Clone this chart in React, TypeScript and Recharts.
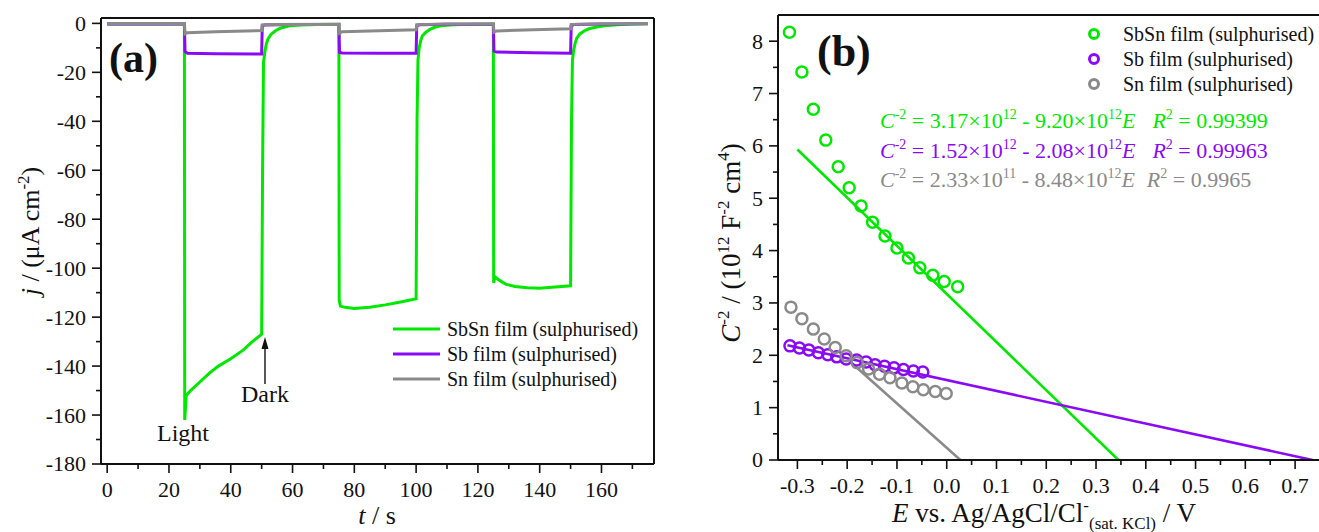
import React from 'react';
import { LineChart, Line, XAxis, YAxis, ReferenceLine, ComposedChart, Scatter } from 'recharts';

const FONT = '"Liberation Serif", "Times New Roman", Times, serif';
const GREEN = '#00E800';
const PURPLE = '#8A0AF8';
const GRAY = '#8A8A8A';
const INK = '#111111';

// ---------- Panel (a): chronoamperometry, t / s vs j / (uA cm-2) ----------
const sbsnCurrent: [number, number][] = [
  [0, -0.3], [25, -0.3], [25.1, -162], [25.6, -152], [27, -150], [30, -146.5], [33, -143], [36, -140],
  [40, -137], [44, -133.5], [47, -130], [50, -127], [50.3, -60], [50.6, -16], [51, -12], [51.5, -8.5],
  [52, -6.5], [53, -4.5], [54.5, -3], [56, -2], [59, -1], [63, -0.7], [68, -0.5], [75, -0.4],
  [75.1, -113], [75.5, -115.5], [77, -116], [80, -116.5], [85, -116], [90, -115], [95, -113.8], [100, -112.5],
  [100.3, -40], [100.6, -15], [101, -10], [101.5, -7], [102, -5.2], [103, -3.8], [104.5, -2.4], [106, -1.6],
  [108, -1], [112, -0.6], [118, -0.4], [125, -0.3],
  [125.1, -106], [125.5, -103.5], [127, -105], [129, -106.5], [132, -107.5], [136, -108], [140, -108.2],
  [144, -107.8], [150, -107.2], [150.3, -40], [150.6, -15], [151, -11], [151.5, -8], [152, -6], [153, -4.3],
  [154.5, -3], [156, -2.2], [158, -1.6], [161, -1], [165, -0.6], [170, -0.3], [175, -0.2],
];
const sbCurrent: [number, number][] = [
  [0, -0.3], [25, -0.3], [25.2, -11.5], [26, -12.2], [35, -12.4], [50, -12.5], [50.2, -1], [51, -0.7],
  [60, -0.5], [75, -0.5], [75.2, -11.8], [76, -12.1], [88, -12.2], [100, -12.2], [100.2, -1], [101, -0.6],
  [110, -0.4], [125, -0.4], [125.2, -11.3], [126, -11.7], [138, -12], [150, -12.2], [150.2, -1], [151, -0.5],
  [160, -0.3], [175, -0.2],
];
const snCurrent: [number, number][] = [
  [0, 0], [25, 0], [25.2, -4.3], [26, -3.8], [35, -3.4], [50, -2.9], [50.2, -0.6], [52, -0.5], [75, -0.4],
  [75.2, -4], [76, -3.4], [88, -3], [100, -2.6], [100.2, -0.5], [110, -0.3], [125, -0.3], [125.2, -3.6],
  [126, -3.1], [138, -2.6], [150, -2.2], [150.2, -0.4], [160, -0.2], [175, 0],
];
const aXTicks = [0, 10, 20, 30, 40, 50, 60, 70, 80, 90, 100, 110, 120, 130, 140, 150, 160, 170];
const aXLabels = [0, 20, 40, 60, 80, 100, 120, 140, 160];
const aYTicks = [0, -10, -20, -30, -40, -50, -60, -70, -80, -90, -100, -110, -120, -130, -140, -150, -160, -170, -180];
const aYLabels = [0, -20, -40, -60, -80, -100, -120, -140, -160, -180];
const aSeriesNames = ['SbSn film (sulphurised)', 'Sb film (sulphurised)', 'Sn film (sulphurised)'];

// ---------- Panel (b): Mott-Schottky ----------
const sbsnMS: [number, number][] = [
  [-0.316, 8.17], [-0.291, 7.41], [-0.268, 6.70], [-0.243, 6.11], [-0.218, 5.60], [-0.196, 5.20], [-0.172, 4.85],
  [-0.149, 4.54], [-0.124, 4.28], [-0.100, 4.05], [-0.077, 3.86], [-0.054, 3.67], [-0.028, 3.53], [-0.005, 3.41], [0.022, 3.31],
];
const sbMS: [number, number][] = [
  [-0.315, 2.18], [-0.296, 2.14], [-0.277, 2.10], [-0.258, 2.05], [-0.239, 2.01], [-0.221, 1.97], [-0.202, 1.93],
  [-0.181, 1.91], [-0.162, 1.87], [-0.144, 1.82], [-0.125, 1.79], [-0.106, 1.76], [-0.087, 1.73], [-0.067, 1.70], [-0.048, 1.68],
];
const snMS: [number, number][] = [
  [-0.313, 2.92], [-0.291, 2.70], [-0.268, 2.50], [-0.246, 2.31], [-0.224, 2.15], [-0.202, 1.99], [-0.180, 1.86],
  [-0.157, 1.74], [-0.135, 1.64], [-0.114, 1.57], [-0.090, 1.47], [-0.068, 1.40], [-0.047, 1.34], [-0.023, 1.31], [-0.001, 1.27],
];
const sbsnFit: [number, number][] = [[-0.30, 5.93], [0.345, 0]];
const sbFit: [number, number][] = [[-0.32, 2.19], [0.735, 0]];
const snFit: [number, number][] = [[-0.185, 1.80], [0.0275, 0]];
const bXTicks = [-0.3, -0.25, -0.2, -0.15, -0.1, -0.05, 0, 0.05, 0.1, 0.15, 0.2, 0.25, 0.3, 0.35, 0.4, 0.45, 0.5, 0.55, 0.6, 0.65, 0.7];
const bXLabels = [-0.3, -0.2, -0.1, 0, 0.1, 0.2, 0.3, 0.4, 0.5, 0.6, 0.7];
const bYTicks = [0, 0.5, 1, 1.5, 2, 2.5, 3, 3.5, 4, 4.5, 5, 5.5, 6, 6.5, 7, 7.5, 8];
const bYLabels = [0, 1, 2, 3, 4, 5, 6, 7, 8];
const fitEquations = [
  { a: '3.17', ea: '12', b: '9.20', eb: '12', r: '0.99399' },
  { a: '1.52', ea: '12', b: '2.08', eb: '12', r: '0.99963' },
  { a: '2.33', ea: '11', b: '8.48', eb: '12', r: '0.9965' },
];

const tj = (a: [number, number][]) => a.map(([t, j]) => ({ t, j }));
const xy = (a: [number, number][]) => a.map(([x, y]) => ({ x, y }));

const isIn = (list: number[], v: number) => list.some((l) => Math.abs(l - v) < 1e-9);

function makeXTick(labels: number[], fmt: (v: number) => string, gap: number) {
  return (props: any) => {
    const { x, y, payload } = props;
    const v = payload.value;
    const major = isIn(labels, v);
    return (
      <g>
        <line x1={x} x2={x} y1={y} y2={y + (major ? 9 : 5)} stroke={INK} strokeWidth={1.6} />
        {major && (
          <text x={x} y={y + gap} textAnchor="middle" fontSize={22} fontFamily={FONT} fill={INK}>
            {fmt(v)}
          </text>
        )}
      </g>
    );
  };
}
function makeYTick(labels: number[], fmt: (v: number) => string) {
  return (props: any) => {
    const { x, y, payload } = props;
    const v = payload.value;
    const major = isIn(labels, v);
    return (
      <g>
        <line x1={x} x2={x - (major ? 9 : 5)} y1={y} y2={y} stroke={INK} strokeWidth={1.6} />
        {major && (
          <text x={x - 15} y={y} dy="0.34em" textAnchor="end" fontSize={22} fontFamily={FONT} fill={INK}>
            {fmt(v)}
          </text>
        )}
      </g>
    );
  };
}

const ringShape = (color: string) => (props: any) => (
  <circle cx={props.cx} cy={props.cy} r={5.5} fill="none" stroke={color} strokeWidth={2.5} />
);

const axisLine = { stroke: INK, strokeWidth: 2 };

function PanelA() {
  return (
    <LineChart width={660} height={532} margin={{ top: 18, right: 6, bottom: 8, left: 0 }}>
      <XAxis
        dataKey="t"
        type="number"
        domain={[-2, 177]}
        allowDataOverflow
        ticks={aXTicks}
        interval={0}
        tickSize={0}
        tickMargin={0}
        tickLine={false}
        axisLine={axisLine}
        height={60}
        tick={makeXTick(aXLabels, (v) => String(v), 33)}
      />
      <YAxis
        type="number"
        domain={[-180, 2.2]}
        allowDataOverflow
        ticks={aYTicks}
        interval={0}
        tickSize={0}
        tickMargin={0}
        tickLine={false}
        axisLine={axisLine}
        width={101}
        tick={makeYTick(aYLabels, (v) => String(v))}
      />
      <ReferenceLine y={2.2} stroke={INK} strokeWidth={2} ifOverflow="visible" />
      <ReferenceLine x={177} stroke={INK} strokeWidth={2} ifOverflow="visible" />
      <Line data={tj(sbsnCurrent)} dataKey="j" name={aSeriesNames[0]} type="linear" stroke={GREEN} strokeWidth={3} dot={false} isAnimationActive={false} />
      <Line data={tj(sbCurrent)} dataKey="j" name={aSeriesNames[1]} type="linear" stroke={PURPLE} strokeWidth={3} dot={false} isAnimationActive={false} />
      <Line data={tj(snCurrent)} dataKey="j" name={aSeriesNames[2]} type="linear" stroke={GRAY} strokeWidth={3} dot={false} isAnimationActive={false} />
    </LineChart>
  );
}

function PanelB() {
  return (
    <ComposedChart width={659} height={532} margin={{ top: 15, right: 0, bottom: 12, left: 0 }}>
      <XAxis
        dataKey="x"
        type="number"
        domain={[-0.339, 0.748]}
        allowDataOverflow
        ticks={bXTicks}
        interval={0}
        tickSize={0}
        tickMargin={0}
        tickLine={false}
        axisLine={axisLine}
        height={60}
        tick={makeXTick(bXLabels, (v) => v.toFixed(1), 33)}
      />
      <YAxis
        dataKey="y"
        type="number"
        domain={[0, 8.5]}
        allowDataOverflow
        ticks={bYTicks}
        interval={0}
        tickSize={0}
        tickMargin={0}
        tickLine={false}
        axisLine={axisLine}
        width={118}
        tick={makeYTick(bYLabels, (v) => String(v))}
      />
      <ReferenceLine y={8.5} stroke={INK} strokeWidth={2} ifOverflow="visible" />
      <Line data={xy(sbsnFit)} dataKey="y" type="linear" stroke={GREEN} strokeWidth={2.6} dot={false} isAnimationActive={false} />
      <Line data={xy(sbFit)} dataKey="y" type="linear" stroke={PURPLE} strokeWidth={2.6} dot={false} isAnimationActive={false} />
      <Line data={xy(snFit)} dataKey="y" type="linear" stroke={GRAY} strokeWidth={2.6} dot={false} isAnimationActive={false} />
      <Scatter data={xy(sbsnMS)} dataKey="y" name={aSeriesNames[0]} shape={ringShape(GREEN)} isAnimationActive={false} />
      <Scatter data={xy(sbMS)} dataKey="y" name={aSeriesNames[1]} shape={ringShape(PURPLE)} isAnimationActive={false} />
      <Scatter data={xy(snMS)} dataKey="y" name={aSeriesNames[2]} shape={ringShape(GRAY)} isAnimationActive={false} />
    </ComposedChart>
  );
}

type Seg = { t: string; it?: boolean; sup?: boolean; dx?: number };
function rich(segs: Seg[], supSize: number, shift: number) {
  let prev = 0;
  return segs.map((s, i) => {
    const lvl = s.sup ? -shift : 0;
    const dy = lvl - prev;
    prev = lvl;
    return (
      <tspan
        key={i}
        dy={dy !== 0 ? dy : undefined}
        dx={s.dx}
        fontSize={s.sup ? supSize : undefined}
        fontStyle={s.it ? 'italic' : undefined}
      >
        {s.t}
      </tspan>
    );
  });
}

function Overlay() {
  const colors = [GREEN, PURPLE, GRAY];
  const legA = [329, 354, 379];
  const legB = [34, 59, 84];
  const eqY = [128, 158, 187];
  const gaps = [17, 17, 12];
  return (
    <svg width={1319} height={532} style={{ position: 'absolute', left: 0, top: 0, pointerEvents: 'none' }} fontFamily={FONT}>
      <text x={109} y={72} fontSize={42} fontWeight="bold" fill={INK}>(a)</text>
      <text x={817} y={66} fontSize={44} fontWeight="bold" fill={INK}>(b)</text>
      <text x={157} y={441} fontSize={24} fill={INK}>Light</text>
      <text x={241} y={402} fontSize={24} fill={INK}>Dark</text>
      <line x1={265} x2={265} y1={384} y2={346} stroke={INK} strokeWidth={1.4} />
      <polygon points="265,337 261.5,349 268.5,349" fill={INK} />

      {aSeriesNames.map((n, i) => (
        <g key={'la' + i}>
          <line x1={393} x2={440} y1={legA[i]} y2={legA[i]} stroke={colors[i]} strokeWidth={3} />
          <text x={447} y={legA[i] + 7} fontSize={20} fill={INK}>{n}</text>
        </g>
      ))}
      {aSeriesNames.map((n, i) => (
        <g key={'lb' + i}>
          <circle cx={1094} cy={legB[i]} r={4.5} fill="none" stroke={colors[i]} strokeWidth={3} />
          <text x={1123} y={legB[i] + 7} fontSize={20} fill={INK}>{n}</text>
        </g>
      ))}

      {fitEquations.map((e, i) => (
        <text key={'eq' + i} x={880} y={eqY[i]} fontSize={22} fill={colors[i]}>
          {rich(
            [
              { t: 'C', it: true },
              { t: '-2', sup: true },
              { t: ` = ${e.a}×10` },
              { t: e.ea, sup: true },
              { t: ` - ${e.b}×10` },
              { t: e.eb, sup: true },
              { t: 'E', it: true },
              { t: 'R', it: true, dx: gaps[i] },
              { t: '2', sup: true },
              { t: ` = ${e.r}` },
            ],
            14,
            9,
          )}
        </text>
      ))}

      <text x={377} y={524} fontSize={26} textAnchor="middle" fill={INK}>
        {rich([{ t: 't', it: true }, { t: ' / s' }], 17, 10)}
      </text>
      <text transform="translate(39,231) rotate(-90)" fontSize={26} textAnchor="middle" fill={INK}>
        {rich([{ t: 'j', it: true }, { t: ' / (μA cm' }, { t: '-2', sup: true }, { t: ')' }], 17, 10)}
      </text>

      <text x={892} y={522} fontSize={27} fill={INK}>
        <tspan fontStyle="italic">E</tspan>
        <tspan>{' vs. Ag/AgCl/Cl'}</tspan>
        <tspan dy={-11} fontSize={17}>-</tspan>
        <tspan dy={18} fontSize={17}>(sat. KCl)</tspan>
        <tspan dy={-7}>{' / V'}</tspan>
      </text>
      <text transform="translate(740,243) rotate(-90)" fontSize={27} textAnchor="middle" fill={INK}>
        {rich(
          [
            { t: 'C', it: true },
            { t: '-2', sup: true },
            { t: ' / (10' },
            { t: '12', sup: true },
            { t: ' F' },
            { t: '-2', sup: true },
            { t: ' cm' },
            { t: '4', sup: true },
            { t: ')' },
          ],
          17,
          11,
        )}
      </text>
    </svg>
  );
}

export default function App() {
  return (
    <div style={{ position: 'absolute', left: 0, top: 0, width: 1319, height: 532, background: '#fff', overflow: 'hidden', fontFamily: FONT }}>
      <div style={{ position: 'absolute', left: 0, top: 0 }}>
        <PanelA />
      </div>
      <div style={{ position: 'absolute', left: 660, top: 0 }}>
        <PanelB />
      </div>
      <Overlay />
    </div>
  );
}
